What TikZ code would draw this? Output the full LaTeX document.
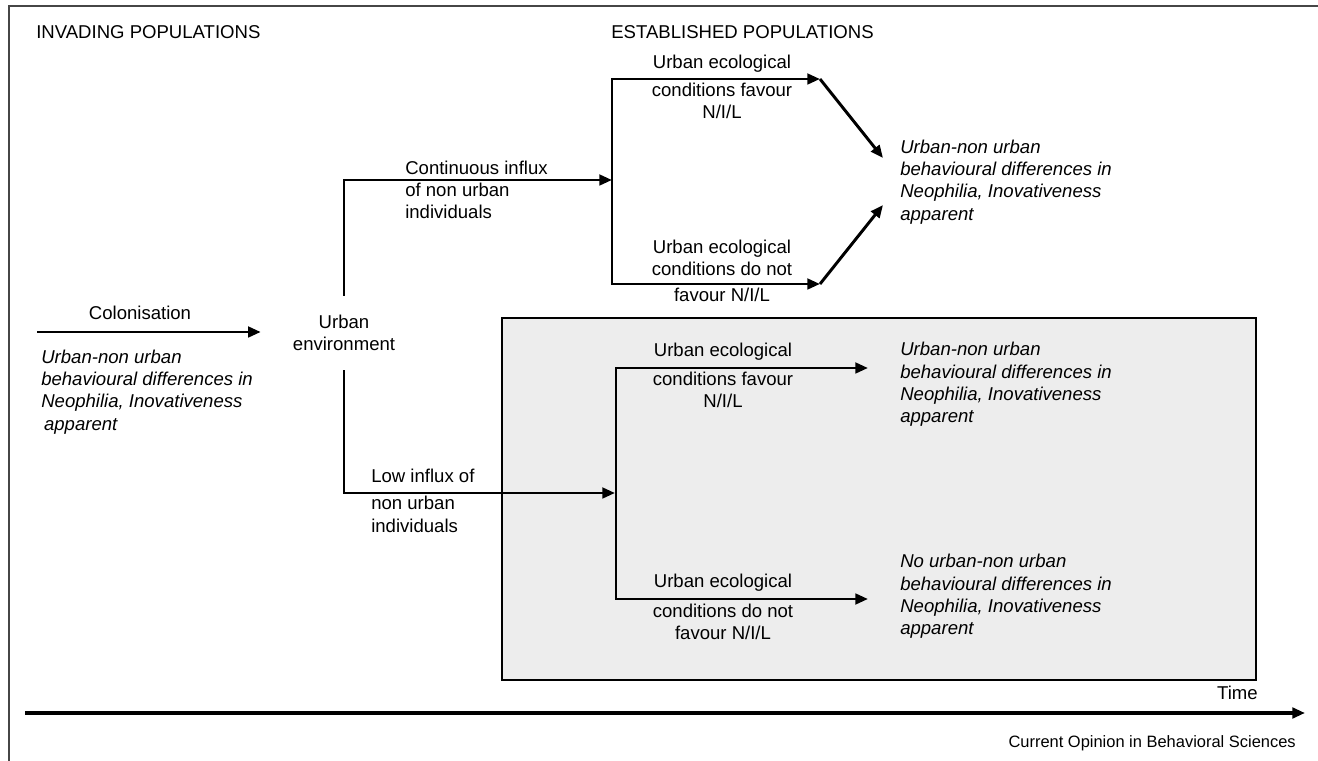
\documentclass[tikz,border=0pt]{standalone}
\usepackage{fontspec}
\setmainfont{Liberation Sans}
\usetikzlibrary{arrows.meta}
\definecolor{boxgray}{RGB}{237,237,237}
\definecolor{framegray}{RGB}{70,70,70}

\begin{document}
\begin{tikzpicture}[x=0.025cm, y=-0.025cm, >={Triangle[length=9pt,width=7.5pt]},
    every node/.style={inner sep=0pt, font=\fontsize{13.2}{15.9}\selectfont},
    flow/.style={->, line width=2.1pt},
    outcome/.style={anchor=west, align=left, font=\fontsize{13.2}{15.9}\selectfont\itshape}]
    \useasboundingbox (0,0) rectangle (1318,761);
    \draw[framegray, line width=1.6pt] (9,761) -- (9,6) -- (1318,6);

    \node[anchor=west] (inv) at (36,32) {INVADING POPULATIONS};
    \node[anchor=west] (est) at (611,32) {ESTABLISHED POPULATIONS};

    % colonisation
    \node[align=center, minimum width=118pt, minimum height=52.6pt] (urban) at (344,333) {Urban\\environment};
    \coordinate (col-start) at (37,332);
    \draw[flow] (col-start) -- (col-start -| urban.west);
    \node (col) at (140,313) {Colonisation};
    \node[outcome] (inv-out) at (41,392) {Urban-non urban\\behavioural differences in\\Neophilia, Inovativeness\\\hspace*{2pt}apparent};

    % grey box
    \draw[line width=1.8pt, fill=boxgray] (502,318) rectangle (1256,680);

    % influx
    \coordinate (hi-in) at (612,180);
    \coordinate (low-in) at (615,493);
    \draw[flow] (urban.north) |- (hi-in);
    \draw[flow] (urban.south) |- (low-in);
    \node[anchor=west, align=left] (hi-lab) at (405,190) {Continuous influx\\of non urban\\individuals};
    \node[anchor=west, align=left] (low-lab) at (371,501) {Low influx of\\[3.3pt]non urban\\individuals};

    % continuous influx branch
    \coordinate (hi-top) at (612,79);
    \coordinate (hi-bot) at (612,284);
    \coordinate (fav-end) at (820,79);
    \coordinate (nofav-end) at (820,284);
    \coordinate (res-a) at (883,158);
    \coordinate (res-b) at (883,205);
    \draw[flow] (hi-bot) -- (hi-top) -- (fav-end);
    \draw[flow] (hi-top) -- (hi-bot) -- (nofav-end);
    \draw[flow] (fav-end) -- (res-a);
    \draw[flow] (nofav-end) -- (res-b);
    \node (fav-a) at (722,64) {Urban ecological};
    \node[align=center] (fav-b) at (722,101) {conditions favour\\N/I/L};
    \node[align=center] (nofav-a) at (722,258) {Urban ecological\\conditions do not};
    \node (nofav-b) at (722,295) {favour N/I/L};
    \node[outcome] (res1) at (900,182) {Urban-non urban\\behavioural differences in\\Neophilia, Inovativeness\\apparent};

    % low influx branch
    \coordinate (lo-top) at (616,368);
    \coordinate (lo-bot) at (616,599);
    \coordinate (lofav-end) at (868,368);
    \coordinate (lonofav-end) at (868,599);
    \draw[flow] (lo-bot) -- (lo-top) -- (lofav-end);
    \draw[flow] (lo-top) -- (lo-bot) -- (lonofav-end);
    \node (lofav-a) at (723,352) {Urban ecological};
    \node[align=center] (lofav-b) at (723,390) {conditions favour\\N/I/L};
    \node (lonofav-a) at (723,583) {Urban ecological};
    \node[align=center] (lonofav-b) at (723,622) {conditions do not\\favour N/I/L};
    \node[outcome] (res2) at (900,384.5) {Urban-non urban\\behavioural differences in\\Neophilia, Inovativeness\\apparent};
    \node[outcome] (res3) at (900,596.5) {No urban-non urban\\behavioural differences in\\Neophilia, Inovativeness\\apparent};

    % time axis
    \coordinate (t0) at (25,713);
    \coordinate (t1) at (1305,713);
    \draw[->, line width=2.3pt] (t0) -- (t1);
    \node[anchor=east] (time) at (1258,693) {Time};
    \node[anchor=east, font=\fontsize{11.7}{14}\selectfont] (credit) at (1296,743) {Current Opinion in Behavioral Sciences};
\end{tikzpicture}
\end{document}
